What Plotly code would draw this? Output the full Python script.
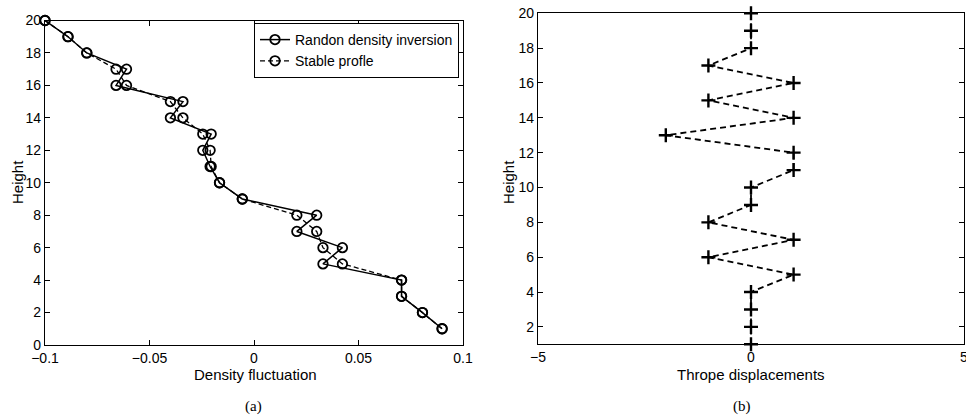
import plotly.graph_objects as go

heights = [20, 19, 18, 17, 16, 15, 14, 13, 12, 11, 10, 9, 8, 7, 6, 5, 4, 3, 2, 1]
random_profile = [-0.100, -0.089, -0.080, -0.061, -0.066, -0.034, -0.040, -0.0205, -0.0245, -0.021,
                  -0.0165, -0.0056, 0.030, 0.0205, 0.0423, 0.033, 0.0706, 0.0706, 0.0806, 0.090]
stable_profile = [-0.100, -0.089, -0.080, -0.066, -0.061, -0.040, -0.034, -0.0245, -0.021, -0.0205,
                  -0.0165, -0.0056, 0.0205, 0.030, 0.033, 0.0423, 0.0706, 0.0706, 0.0806, 0.090]
thorpe = [0, 0, 0, -1, 1, -1, 1, -2, 1, 1, 0, 0, -1, 1, -1, 1, 0, 0, 0, 0]

left_xticks = [-0.1, -0.05, 0, 0.05, 0.1]
left_xticklabels = ["\u22120.1", "\u22120.05", "0", "0.05", "0.1"]
left_yticks = [0, 2, 4, 6, 8, 10, 12, 14, 16, 18, 20]
right_xticks = [-5, 0, 5]
right_xticklabels = ["\u22125", "0", "5"]
right_yticks = [2, 4, 6, 8, 10, 12, 14, 16, 18, 20]

FONT = "Liberation Sans, Arial, sans-serif"
SERIF = "Liberation Serif, Times New Roman, serif"
W, H = 966, 418

fig = go.Figure()
fig.add_trace(go.Scatter(
    x=random_profile, y=heights, mode="lines+markers", name="Randon density inversion",
    line=dict(color="black", width=1.5),
    marker=dict(symbol="circle-open", size=9.5, color="black", line=dict(width=1.8)),
    cliponaxis=False, xaxis="x", yaxis="y"))
fig.add_trace(go.Scatter(
    x=stable_profile, y=heights, mode="lines+markers", name="Stable profle",
    line=dict(color="black", width=1.3, dash="5px,3px"),
    marker=dict(symbol="circle-open", size=9.5, color="black", line=dict(width=1.8)),
    cliponaxis=False, xaxis="x", yaxis="y"))
fig.add_trace(go.Scatter(
    x=thorpe, y=heights, mode="lines+markers", name="Thorpe", showlegend=False,
    line=dict(color="black", width=1.8, dash="6px,4px"),
    marker=dict(symbol="cross-thin-open", size=10, color="black", line=dict(width=2.4, color="black")),
    cliponaxis=False, xaxis="x2", yaxis="y2"))

def px_x(p):
    return p / W

def px_y(p):
    return (H - p) / H

axis_common = dict(
    showgrid=False, zeroline=False, showline=True, linecolor="black", linewidth=1.3,
    mirror="ticks", ticks="inside", ticklen=5, tickwidth=1, tickcolor="black",
    tickfont=dict(family=FONT, size=14, color="black"), automargin=False,
    ticklabeloverflow="allow",
)

def label(text, x, y, angle=0, font=FONT, size=15):
    return dict(text=text, x=px_x(x), y=px_y(y), xref="paper", yref="paper",
                xanchor="center", yanchor="middle", textangle=angle, showarrow=False,
                font=dict(family=font, size=size, color="black"))

fig.update_layout(
    width=W, height=H, margin=dict(l=0, r=0, t=0, b=0),
    paper_bgcolor="white", plot_bgcolor="white",
    font=dict(family=FONT, size=14, color="black"),
    xaxis=dict(domain=[px_x(45), px_x(463)], range=[-0.1, 0.1], anchor="y",
               tickvals=left_xticks, ticktext=left_xticklabels, **axis_common),
    yaxis=dict(domain=[px_y(345), px_y(20.5)], range=[0, 20], anchor="x",
               tickvals=left_yticks, **axis_common),
    xaxis2=dict(domain=[px_x(538), px_x(964)], range=[-5, 5], anchor="y2",
                tickvals=right_xticks, ticktext=right_xticklabels, **axis_common),
    yaxis2=dict(domain=[px_y(344.3), px_y(13.3)], range=[1, 20], anchor="x2",
                tickvals=right_yticks, **axis_common),
    legend=dict(x=px_x(459), y=px_y(23), xanchor="right", yanchor="top",
                bordercolor="black", borderwidth=1, bgcolor="white",
                font=dict(family=FONT, size=14, color="black"),
                tracegroupgap=0, itemwidth=30),
    annotations=[
        label("Density fluctuation", 255, 374),
        label("Height", 17, 182, angle=-90),
        label("Thrope displacements", 751, 374),
        label("Height", 508, 182, angle=-90),
        label("(a)", 254, 406, font=SERIF),
        label("(b)", 742, 406, font=SERIF),
    ],
)

fig.write_html("out.html")
